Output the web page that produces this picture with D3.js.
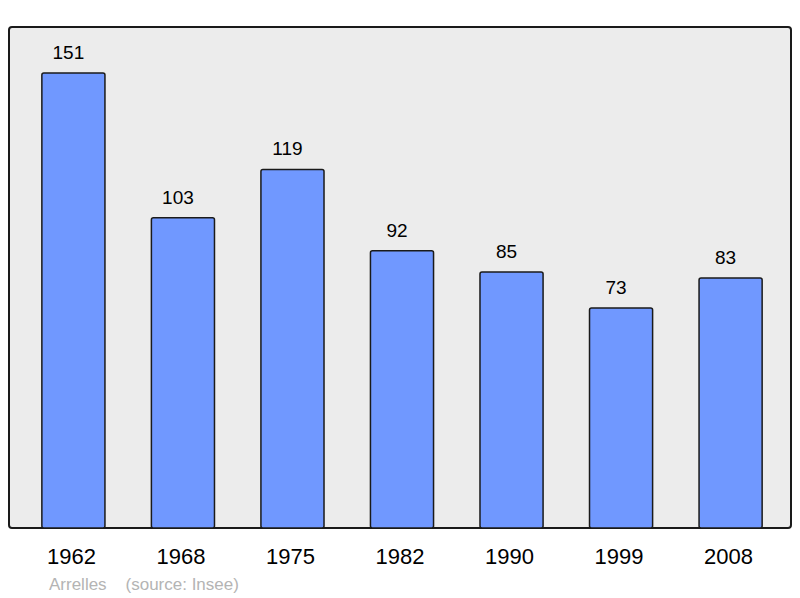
<!DOCTYPE html>
<html>
<head>
<meta charset="utf-8">
<script src="https://d3js.org/d3.v7.min.js"></script>
<style>
    body { margin: 0; background: #fff; }
    text { font-family: "Liberation Sans", Arial, sans-serif; }
</style>
</head>
<body>
<svg width="800" height="598"></svg>
<script>
    const years = ['1962', '1968', '1975', '1982', '1990', '1999', '2008'];
    const population = [151, 103, 119, 92, 85, 73, 83];
    const commune = 'Arrelles';
    const source = '(source: Insee)';

    const svg = d3.select('svg');

    const panel = { left: 9, top: 27, right: 791, bottom: 528 };

    // panel background
    svg.append('rect')
        .attr('x', panel.left)
        .attr('y', panel.top)
        .attr('width', panel.right - panel.left)
        .attr('height', panel.bottom - panel.top)
        .attr('rx', 3)
        .attr('fill', '#ececec')
        .attr('stroke', '#1a1a1a')
        .attr('stroke-width', 2);

    const x = d3.scaleBand()
        .domain(years)
        .range([9, 795])
        .paddingInner(0.424)
        .paddingOuter(0.3);

    const y = d3.scaleLinear()
        .domain([0, 166.3])
        .range([panel.bottom, panel.top]);

    const data = years.map((yr, i) => ({ year: yr, value: population[i] }));

    svg.append('g')
        .selectAll('rect')
        .data(data)
        .enter()
        .append('rect')
        .attr('x', d => x(d.year))
        .attr('y', d => y(d.value))
        .attr('width', x.bandwidth())
        .attr('height', d => y(0) - y(d.value))
        .attr('rx', 2)
        .attr('fill', '#7098ff')
        .attr('stroke', '#1a1a1a')
        .attr('stroke-width', 1.5);

    // value labels (sit a little left of the bar centre)
    svg.append('g')
        .selectAll('text')
        .data(data)
        .enter()
        .append('text')
        .attr('x', d => x(d.year) + x.bandwidth() / 2 - 5)
        .attr('y', d => y(d.value) - 14)
        .attr('text-anchor', 'middle')
        .attr('font-size', 19)
        .attr('fill', '#000')
        .text(d => d.value);

    // year labels
    svg.append('g')
        .selectAll('text')
        .data(years)
        .enter()
        .append('text')
        .attr('x', d => x(d) + x.bandwidth() / 2 - 2)
        .attr('y', 564)
        .attr('text-anchor', 'middle')
        .attr('font-size', 22)
        .attr('fill', '#000')
        .text(d => d);

    svg.append('text')
        .attr('x', 49)
        .attr('y', 590)
        .attr('font-size', 17)
        .attr('fill', '#b4b4b4')
        .attr('xml:space', 'preserve')
        .style('white-space', 'pre')
        .text(commune + '    ' + source);
</script>
</body>
</html>
